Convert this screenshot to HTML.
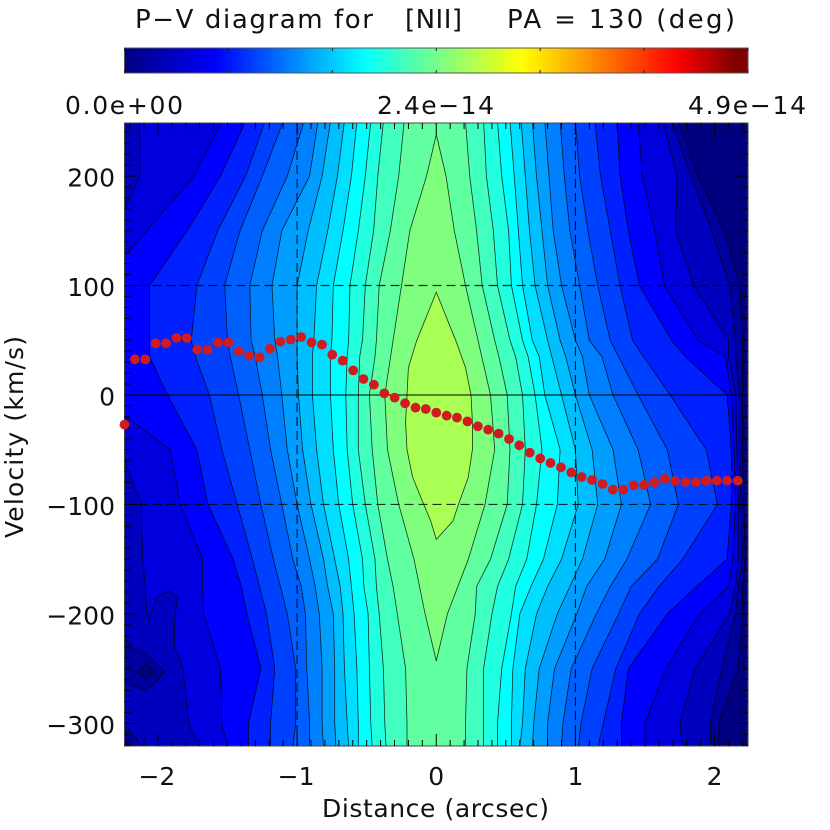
<!DOCTYPE html>
<html>
<head>
<meta charset="utf-8">
<title>P-V diagram</title>
<style>
html,body{margin:0;padding:0;background:#fff;}
svg{display:block;}
text{font-family:"DejaVu Sans","Liberation Sans",sans-serif;fill:#111;}
</style>
</head>
<body>
<svg id="chart" xmlns="http://www.w3.org/2000/svg" width="830" height="830" viewBox="0 0 830 830">
  <defs>
    <clipPath id="plot-clip"><rect x="124.5" y="123" width="623.5" height="623"/></clipPath>
    <linearGradient id="jet-gradient" x1="0" y1="0" x2="1" y2="0">
      <stop offset="0" stop-color="#000080"/>
      <stop offset="0.148" stop-color="#0000ff"/>
      <stop offset="0.383" stop-color="#00ffff"/>
      <stop offset="0.638" stop-color="#ffff00"/>
      <stop offset="0.887" stop-color="#ff0000"/>
      <stop offset="0.98" stop-color="#800000"/>
      <stop offset="1" stop-color="#800000"/>
    </linearGradient>
  </defs>
  <rect width="830" height="830" fill="#fff"/>
  <text x="135" y="28" font-size="26" textLength="238" lengthAdjust="spacing">P−V diagram for</text>
  <text x="405" y="28" font-size="26" textLength="57" lengthAdjust="spacing">[NII]</text>
  <text x="507" y="28" font-size="26" textLength="228" lengthAdjust="spacing">PA = 130 (deg)</text>
  <g id="colorbar"></g>
  <text x="65" y="114" font-size="25" textLength="118" lengthAdjust="spacing">0.0e+00</text>
  <text x="377" y="114" font-size="25" textLength="117" lengthAdjust="spacing">2.4e−14</text>
  <text x="688" y="114" font-size="25" textLength="118" lengthAdjust="spacing">4.9e−14</text>
  <g id="plot-area" clip-path="url(#plot-clip)">
    <rect x="124.5" y="123" width="623.5" height="623" fill="#000080"/>
    <g id="contours"></g>
    <g id="guides"></g>
  </g>
  <g id="axes"></g>
  <g id="points-over"></g>
  <text x="322" y="817" font-size="25" textLength="227" lengthAdjust="spacing">Distance (arcsec)</text>
  <text x="0" y="0" font-size="25" textLength="202" lengthAdjust="spacing" transform="translate(23 538) rotate(-90)">Velocity (km/s)</text>
</svg>
<script>
// Velocity rows (km/s) at which contour crossings were read
const velocityRows = [250,200,150,100,50,35,0,-50,-100,-150,-175,-200,-250,-300,-322];

// Contour crossings: distance (arcsec) on each side of the peak, per velocity row
const c3Left  = [-0.23,-0.27,-0.33,-0.41,-0.43,-0.44,-0.48,-0.46,-0.42,-0.35,-0.31,-0.28,-0.22,-0.21,-0.21];
const c3Right = [0.21,0.24,0.29,0.33,0.42,0.45,0.51,0.53,0.51,0.39,0.29,0.28,0.22,0.21,0.21];
const c4Left  = [-0.38,-0.42,-0.45,-0.51,-0.53,-0.55,-0.56,-0.56,-0.51,-0.44,-0.43,-0.41,-0.38,-0.37,-0.36];
const c4Right = [0.34,0.36,0.41,0.44,0.53,0.57,0.62,0.64,0.62,0.52,0.44,0.40,0.34,0.34,0.34];
const c5Left  = [-0.47,-0.51,-0.56,-0.62,-0.63,-0.64,-0.65,-0.64,-0.60,-0.53,-0.52,-0.49,-0.48,-0.47,-0.46];
const c5Right = [0.44,0.47,0.52,0.54,0.62,0.66,0.71,0.76,0.72,0.65,0.57,0.54,0.47,0.44,0.44];
const c6Left  = [-0.57,-0.61,-0.67,-0.74,-0.75,-0.76,-0.76,-0.74,-0.70,-0.63,-0.61,-0.59,-0.57,-0.56,-0.56];
const c6Right = [0.53,0.56,0.59,0.62,0.69,0.74,0.78,0.89,0.87,0.77,0.68,0.60,0.55,0.54,0.54];
const c7Left  = [-0.66,-0.71,-0.78,-0.86,-0.88,-0.89,-0.89,-0.86,-0.81,-0.73,-0.69,-0.67,-0.66,-0.64,-0.63];
const c7Right = [0.61,0.64,0.67,0.71,0.80,0.83,0.90,1.00,1.02,0.90,0.80,0.72,0.64,0.62,0.60];
const c8Left  = [-0.76,-0.82,-0.92,-1.00,-1.00,-1.00,-0.99,-0.96,-0.90,-0.81,-0.78,-0.74,-0.73,-0.73,-0.72];
const c8Right = [0.69,0.72,0.76,0.80,0.89,0.93,1.00,1.12,1.16,1.05,0.96,0.87,0.74,0.70,0.69];
const c9Left  = [-0.85,-0.91,-1.11,-1.18,-1.16,-1.14,-1.11,-1.07,-1.00,-0.91,-0.87,-0.84,-0.82,-0.82,-0.81];
const c9Right = [0.78,0.81,0.84,0.90,1.00,1.05,1.10,1.27,1.33,1.21,1.08,1.01,0.85,0.80,0.80];
const c10Left  = [-0.95,-1.07,-1.25,-1.34,-1.33,-1.30,-1.25,-1.19,-1.11,-1.03,-0.97,-0.94,-0.93,-0.91,-0.91];
const c10Right = [0.89,0.92,0.96,1.03,1.10,1.19,1.27,1.45,1.54,1.37,1.25,1.15,0.97,0.91,0.90];
const c11Left  = [-1.10,-1.25,-1.41,-1.52,-1.50,-1.48,-1.42,-1.34,-1.26,-1.17,-1.12,-1.07,-1.01,-1.01,-1.03];
const c11Right = [1.00,1.03,1.09,1.16,1.25,1.31,1.45,1.66,1.74,1.59,1.40,1.31,1.12,1.04,1.02];
const c12Left  = [-1.23,-1.37,-1.57,-1.72,-1.76,-1.73,-1.63,-1.54,-1.43,-1.32,-1.27,-1.22,-1.16,-1.19,-1.19];
const c12Right = [1.14,1.18,1.25,1.32,1.41,1.49,1.68,1.94,2.02,1.77,1.60,1.46,1.29,1.20,1.16];
const c13Left  = [-1.37,-1.55,-1.79,-2.06,-2.06,-2.06,-1.93,-1.72,-1.64,-1.46,-1.40,-1.36,-1.26,-1.35,-1.35];
const c13Right = [1.30,1.32,1.38,1.46,1.69,1.79,2.09,2.12,2.12,2.09,1.87,1.66,1.38,1.33,1.33];
const c14Left  = [-1.54,-1.74,-2.08,-2.44,-2.44,-2.44,-2.44,-1.91,-1.84,-1.68,-1.68,-1.67,-1.55,-1.54,-1.50];
const c14Right = [1.45,1.48,1.57,1.64,1.88,2.08,2.12,2.14,2.15,2.13,2.10,1.89,1.65,1.50,1.50];
const c15Left  = [-2.13,-2.13,-2.31,-2.42,-2.42,-2.42,-2.42,-2.27,-2.12,-2.11,-2.09,-2.08,-1.82,-1.78,-1.70];
const c15Right = [1.63,1.73,1.72,1.85,2.10,2.10,2.15,2.16,2.17,2.17,2.15,2.11,1.86,1.75,1.77];
const c16Left  = [-2.6,-2.6,-2.6,-2.6,-2.6,-2.6,-2.6,-2.6,-2.6,-2.6,-2.6,-2.6,-2.6,-2.6,-2.6];
const c16Right = [1.69,1.83,1.98,2.11,2.15,2.15,2.18,2.18,2.19,2.20,2.17,2.15,2.05,1.97,1.97];
const c17Left  = [-2.6,-2.6,-2.6,-2.6,-2.6,-2.6,-2.6,-2.6,-2.6,-2.6,-2.6,-2.6,-2.6,-2.6,-2.6];
const c17Right = [1.74,1.88,2.07,2.18,2.20,2.20,2.20,2.20,2.21,2.22,2.20,2.20,2.17,2.03,2.03];

// Central closed contours
const lensOuterV = [238,200,150,100,50,0,-50,-100,-150,-200,-243];
const lensOuterLeft = [0,-0.07,-0.19,-0.25,-0.31,-0.37,-0.35,-0.27,-0.16,-0.08,0];
const lensOuterRight = [0,0.07,0.13,0.21,0.30,0.39,0.42,0.35,0.23,0.08,0];
const lensInnerV = [94,75,50,25,0,-25,-50,-75,-100,-115,-132];
const lensInnerLeft = [0,-0.06,-0.14,-0.20,-0.21,-0.22,-0.21,-0.17,-0.09,-0.04,0];
const lensInnerRight = [0,0.06,0.14,0.21,0.25,0.26,0.26,0.23,0.16,0.12,0];

// Low-intensity islands in the lower left
const notchD = [-2.07,-2.01,-1.92,-1.86,-1.88,-1.88,-1.82];
const notchV = [-207,-185,-179,-185,-206,-230,-250];
const dipOuterD = [-2.3,-2.24,-2.19,-2.08,-1.95,-2.08,-2.24,-2.3];
const dipOuterV = [-216,-221,-230,-237,-253,-270,-263,-260];
const dipInnerD = [-2.15,-2.08,-2.02,-2.08,-2.15];
const dipInnerV = [-253,-246,-253,-260,-253];
const cornerOuterD = [-2.3,-2.24,-2.11,-2.11,-2.3];
const cornerOuterV = [-296,-301,-321,-325,-325];
const cornerInnerD = [-2.3,-2.24,-2.19,-2.19,-2.3];
const cornerInnerV = [-311,-315,-321,-325,-325];

// Measured velocity centroid along the slit
const pointDistance = [-2.24,-2.165,-2.09,-2.016,-1.941,-1.866,-1.792,-1.717,-1.643,-1.568,-1.493,-1.419,-1.344,-1.269,-1.195,-1.12,-1.045,-0.971,-0.896,-0.821,-0.747,-0.672,-0.597,-0.523,-0.448,-0.373,-0.299,-0.224,-0.149,-0.075,0,0.075,0.149,0.224,0.299,0.373,0.448,0.523,0.597,0.672,0.747,0.821,0.896,0.971,1.045,1.12,1.195,1.269,1.344,1.419,1.493,1.568,1.643,1.717,1.792,1.866,1.941,2.016,2.09,2.166];
const pointVelocity = [-27.1,32.6,32.6,47.2,47.2,52.1,52.1,41.4,41.4,48.1,48.1,39.9,35.9,34.4,42.3,48.7,50.6,53,48.1,46,36.8,31.4,22.5,14.6,9.4,1.5,-2.4,-7.6,-11.6,-12.8,-16.1,-18.9,-20.7,-24.1,-28.6,-31.7,-35.3,-40.2,-46,-52.7,-57.9,-62.1,-66.1,-70.7,-74.9,-77.7,-81.3,-86.5,-86.5,-82.5,-82.2,-79.8,-76.4,-78.6,-79.5,-79.5,-78.3,-78.3,-78.3,-78.3];

// Axis ticks and labels
const xMajorTicks = [-2,-1,0,1,2];
const xTickLabels = ['−2','−1','0','1','2'];
const yMajorTicks = [200,100,0,-100,-200,-300];
const yTickLabels = ['200','100','0','−100','−200','−300'];
const dashedVelocities = [100,-100];
const dashedDistances = [-1,1];
const colorbarFractions = [0,1,2,3,4,5,6];

const SVGNS = 'http://www.w3.org/2000/svg';
const PL = 124.5, PR = 748, PT = 123, PB = 746;
const X_MIN = -2.24, X_MAX = 2.24, Y_MAX = 248.5, Y_MIN = -320.7;
function xScale(d){ return PL + (d - X_MIN) / (X_MAX - X_MIN) * (PR - PL); }
function yScale(v){ return PT + (Y_MAX - v) / (Y_MAX - Y_MIN) * (PB - PT); }
function make(tag, parent, attrs){
  const el = document.createElementNS(SVGNS, tag);
  for (const k in attrs) el.setAttribute(k, attrs[k]);
  parent.appendChild(el);
  return el;
}
const LINE = {stroke:'#000', 'stroke-width':0.8, 'stroke-opacity':0.8, 'stroke-linejoin':'round'};
function sidesToPoints(left, right, rows){
  const pts = [];
  for (let i = 0; i < rows.length; i++) pts.push(xScale(left[i]).toFixed(1) + ',' + yScale(rows[i]).toFixed(1));
  for (let i = rows.length - 1; i >= 0; i--) pts.push(xScale(right[i]).toFixed(1) + ',' + yScale(rows[i]).toFixed(1));
  return pts.join(' ');
}
function pairsToPoints(ds, vs){
  return ds.map((d, i) => xScale(d).toFixed(1) + ',' + yScale(vs[i]).toFixed(1)).join(' ');
}
const contourGroup = document.getElementById('contours');
function drawBand(left, right, rows, color){
  return make('polygon', contourGroup, Object.assign({points: sidesToPoints(left, right, rows), fill: color}, LINE));
}
function drawIsland(ds, vs, color){
  return make('polyline', contourGroup, Object.assign({points: pairsToPoints(ds, vs), fill: color}, LINE));
}
let el;
el = drawBand(c17Left, c17Right, velocityRows, '#00009f');


el = drawBand(c16Left, c16Right, velocityRows, '#0000bf');


el = drawBand(c15Left, c15Right, velocityRows, '#0000df');


el = drawIsland(notchD, notchV, '#0000bf');


el = drawIsland(dipOuterD, dipOuterV, '#00009f');


el = drawIsland(dipInnerD, dipInnerV, '#000080');


el = drawIsland(cornerOuterD, cornerOuterV, '#00009f');


el = drawIsland(cornerInnerD, cornerInnerV, '#000080');


el = drawBand(c14Left, c14Right, velocityRows, '#0000ff');


el = drawBand(c13Left, c13Right, velocityRows, '#0020ff');


el = drawBand(c12Left, c12Right, velocityRows, '#0040ff');


el = drawBand(c11Left, c11Right, velocityRows, '#0060ff');


el = drawBand(c10Left, c10Right, velocityRows, '#0080ff');


el = drawBand(c9Left, c9Right, velocityRows, '#009fff');


el = drawBand(c8Left, c8Right, velocityRows, '#00bfff');


el = drawBand(c7Left, c7Right, velocityRows, '#00dfff');


el = drawBand(c6Left, c6Right, velocityRows, '#00ffff');


el = drawBand(c5Left, c5Right, velocityRows, '#20ffdf');


el = drawBand(c4Left, c4Right, velocityRows, '#40ffbf');


el = drawBand(c3Left, c3Right, velocityRows, '#60ff9f');


el = drawBand(lensOuterLeft, lensOuterRight, lensOuterV, '#80ff7f');


el = drawBand(lensInnerLeft, lensInnerRight, lensInnerV, '#aaff55');



// Guide lines
const guides = document.getElementById('guides');
el = make('line', guides, {x1: PL, x2: PR, y1: yScale(0), y2: yScale(0), stroke: '#000', 'stroke-width': 1});


dashedVelocities.forEach(v => {
  const g = make('line', guides, {x1: PL, x2: PR, y1: yScale(v), y2: yScale(v), stroke: '#000', 'stroke-width': 1.2, 'stroke-opacity': 0.8, 'stroke-dasharray': '9 5'});
  
  
});
dashedDistances.forEach(d => {
  const g = make('line', guides, {x1: xScale(d), x2: xScale(d), y1: PT, y2: PB, stroke: '#000', 'stroke-width': 1.2, 'stroke-opacity': 0.8, 'stroke-dasharray': '9 5'});
  
  
});

// Axes
const axes = document.getElementById('axes');
const frame = make('rect', axes, {x: PL, y: PT, width: PR - PL, height: PB - PT, fill: 'none', stroke: '#444', 'stroke-width': 1});


const tickStyle = {stroke: '#000', 'stroke-width': 1};
for (let t = -22; t <= 22; t++) {
  const d = t / 10;
  const major = t % 10 === 0;
  const len = major ? 12 : 6;
  const a = make('line', axes, Object.assign({x1: xScale(d), x2: xScale(d), y1: PT, y2: PT + len}, tickStyle));
  
  
  const b = make('line', axes, Object.assign({x1: xScale(d), x2: xScale(d), y1: PB, y2: PB - len}, tickStyle));
  
  
}
for (let t = -32; t <= 24; t++) {
  const v = t * 10;
  const major = t % 10 === 0;
  const len = major ? 12 : 6;
  const a = make('line', axes, Object.assign({x1: PL, x2: PL + len, y1: yScale(v), y2: yScale(v)}, tickStyle));
  
  
  const b = make('line', axes, Object.assign({x1: PR, x2: PR - len, y1: yScale(v), y2: yScale(v)}, tickStyle));
  
  
}
xMajorTicks.forEach((d, i) => {
  const label = make('text', axes, {x: xScale(d) + (d < 0 ? -1 : 0), y: 785, 'font-size': 25, 'text-anchor': 'middle'});
  label.textContent = xTickLabels[i];
  
  
});
yMajorTicks.forEach((v, i) => {
  const label = make('text', axes, {x: 115, y: yScale(v) + 10.5, 'font-size': 25, 'text-anchor': 'end'});
  label.textContent = yTickLabels[i];
  
  
});

// Velocity points, drawn over the frame
const pointGroup = document.getElementById('points-over');
pointDistance.forEach((d, i) => {
  const c = make('circle', pointGroup, {cx: xScale(d), cy: yScale(pointVelocity[i]), r: 4.9, fill: '#d01c20'});
  
  
});

// Colorbar
const bar = document.getElementById('colorbar');
const barRect = make('rect', bar, {x: PL, y: 48, width: PR - PL, height: 25, fill: 'url(#jet-gradient)', stroke: '#555', 'stroke-width': 1});


colorbarFractions.forEach(f => {
  const x = PL + (PR - PL) * f / 6;
  const up = make('line', bar, {x1: x, x2: x, y1: 48, y2: 51, stroke: '#222', 'stroke-width': 1});
  
  
  const down = make('line', bar, {x1: x, x2: x, y1: 73, y2: 70, stroke: '#222', 'stroke-width': 1});
  
  
});
</script>
</body>
</html>
